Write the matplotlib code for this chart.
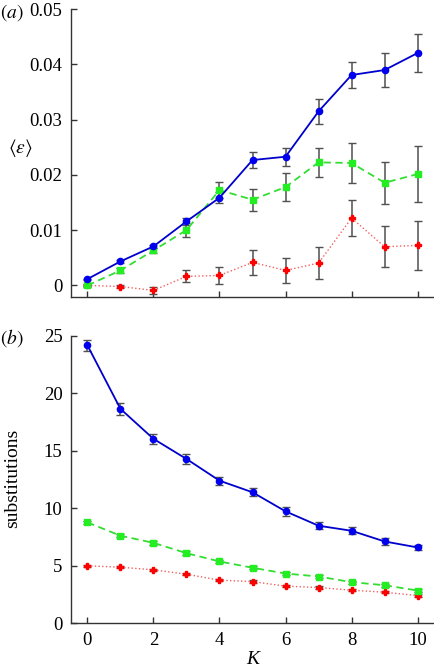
import numpy as np
import matplotlib
matplotlib.use('Agg')
from matplotlib import pyplot as plt

plt.rcParams['font.family'] = ['Liberation Serif', 'DejaVu Serif']
plt.rcParams['mathtext.fontset'] = 'stix'

K = np.arange(11)

# panel (a): mean error <eps>
eps_blue = [0.00115, 0.00434, 0.00706, 0.01158, 0.01586, 0.02268, 0.02328, 0.03148, 0.03806, 0.03896, 0.04204]
eps_blue_err = [0.0001, 0.0002, 0.0003, 0.0006, 0.001, 0.0014, 0.0016, 0.00226, 0.00235, 0.003, 0.00344]
eps_green = [0.0, 0.00271, 0.00633, 0.01001, 0.01725, 0.0155, 0.01779, 0.02226, 0.02214, 0.01858, 0.02014]
eps_green_err = [0.0003, 0.0005, 0.0005, 0.0012, 0.0015, 0.002, 0.0025, 0.0026, 0.0036, 0.0038, 0.0051]
eps_red = [0.0, -0.0002, -0.0009, 0.00163, 0.00181, 0.00416, 0.00271, 0.00404, 0.01218, 0.007, 0.00724]
eps_red_err = [0.0001, 0.0003, 0.0007, 0.0011, 0.0015, 0.0023, 0.0023, 0.0029, 0.0033, 0.0037, 0.0045]

# panel (b): substitutions
sub_blue = [24.19, 18.66, 16.05, 14.30, 12.41, 11.40, 9.74, 8.49, 8.05, 7.12, 6.60]
sub_blue_err = [0.5, 0.5, 0.45, 0.45, 0.35, 0.35, 0.4, 0.3, 0.3, 0.3, 0.2]
sub_green = [8.78, 7.62, 7.0, 6.1, 5.38, 4.83, 4.33, 4.07, 3.58, 3.31, 2.85]
sub_green_err = [0.15, 0.15, 0.15, 0.15, 0.15, 0.12, 0.12, 0.12, 0.12, 0.12, 0.1]
sub_red = [5.0, 4.88, 4.65, 4.27, 3.75, 3.63, 3.23, 3.11, 2.88, 2.70, 2.41]
sub_red_err = [0.1, 0.1, 0.1, 0.1, 0.1, 0.1, 0.1, 0.1, 0.1, 0.1, 0.1]

fig = plt.figure(figsize=(4.35, 6.72), dpi=100)
ax1 = fig.add_axes([0.163, 0.558, 0.835, 0.4286])
ax2 = fig.add_axes([0.163, 0.0725, 0.835, 0.4275])

ebkw = dict(ecolor='#505050', elinewidth=1.1, capsize=2.8, capthick=1.0)


def draw(ax, b, be, g, ge, r, re):
    ax.errorbar(K, r, yerr=re, color='#f06060', ls=':', lw=1.0, marker='P',
                ms=5, mfc='#ff0000', mec='#ff0000', **ebkw)
    ax.errorbar(K, g, yerr=ge, color='#33dd33', ls='--', lw=1.3, marker='s',
                ms=4.2, mfc='#22ee22', mec='#22ee22', dashes=(4, 2.5), **ebkw)
    ax.errorbar(K, b, yerr=be, color='#0000cc', ls='-', lw=1.3, marker='o',
                ms=4.5, mfc='#0000ee', mec='#0000ee', **ebkw)
    for s in ['top', 'right']:
        ax.spines[s].set_visible(False)
    for s in ['left', 'bottom']:
        ax.spines[s].set_color('#333333')
        ax.spines[s].set_linewidth(1.0)
    ax.tick_params(direction='in', length=4, width=1.0, color='#333333',
                   labelsize=13.5, pad=6)
    ax.set_xlim(-0.5, 10.5)
    ax.set_xticks([0, 2, 4, 6, 8, 10])


draw(ax1, eps_blue, eps_blue_err, eps_green, eps_green_err, eps_red, eps_red_err)
ax1.set_ylim(-0.0021, 0.05)
ax1.set_yticks([0, 0.01, 0.02, 0.03, 0.04, 0.05])
ax1.set_yticklabels(['0', '0.01', '0.02', '0.03', '0.04', '0.05'])
ax1.set_xticklabels([])

draw(ax2, sub_blue, sub_blue_err, sub_green, sub_green_err, sub_red, sub_red_err)
ax2.set_ylim(0, 25)
ax2.set_yticks([0, 5, 10, 15, 20, 25])
ax2.set_xlabel('K', fontsize=14, style='italic', labelpad=2)

fig.text(20 / 435, 1 - 148 / 672, r'$\langle\varepsilon\rangle$', fontsize=14,
         ha='center', va='center')
fig.text(13 / 435, 1 - 478 / 672, 'substitutions', fontsize=14, rotation=90,
         ha='center', va='center')
fig.text(0.0, 0.982, r'$(a)$', fontsize=14, va='center')
fig.text(0.0, 0.497, r'$(b)$', fontsize=14, va='center')

fig.savefig('out.png', dpi=100)
